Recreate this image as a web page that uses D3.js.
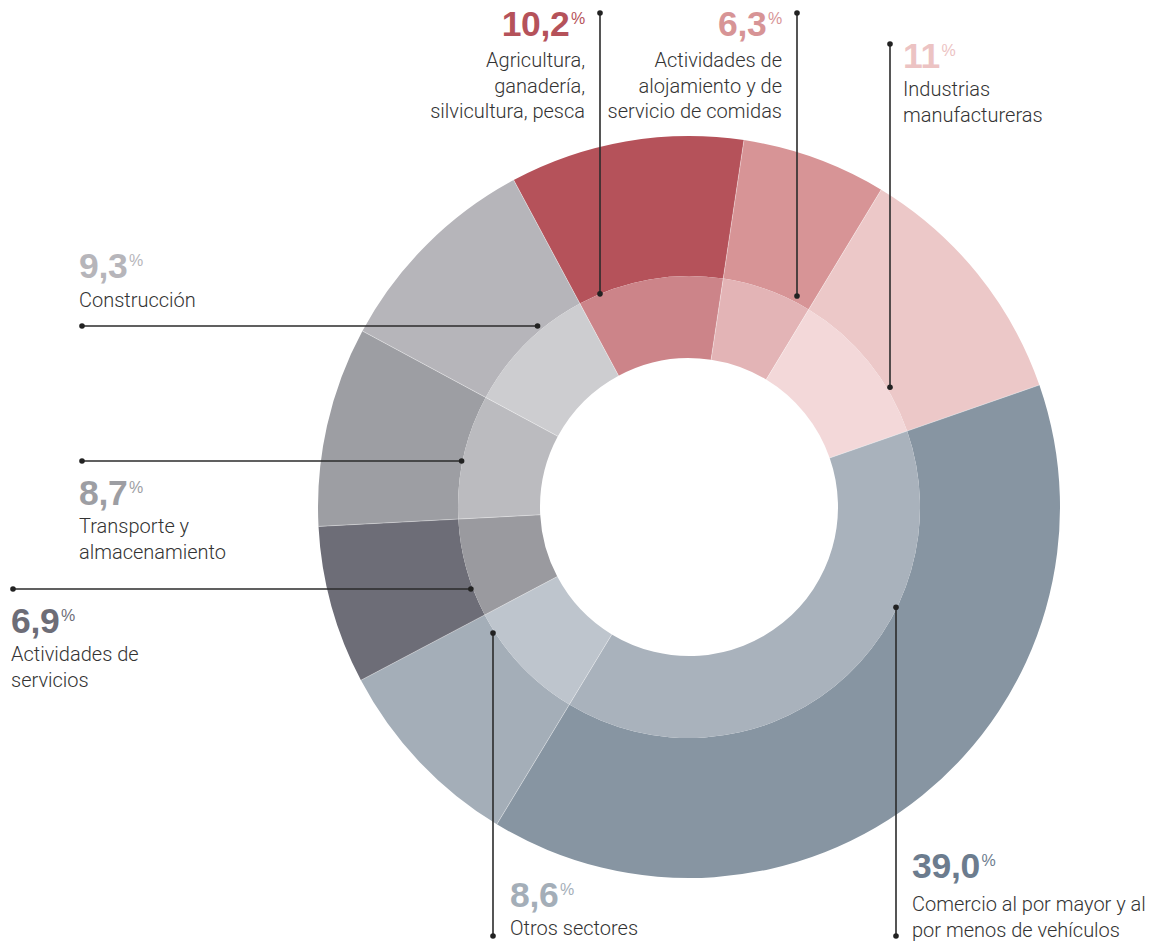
<!DOCTYPE html>
<html>
<head>
<meta charset="utf-8">
<script src="https://cdn.jsdelivr.net/npm/d3@7"></script>
<style>
  html, body { margin: 0; padding: 0; background: #fff; }
  svg { display: block; }
  .lbl { font-family: Roboto, "Liberation Sans", sans-serif; font-weight: 300; font-size: 20px; fill: #333; }
  .num { font-family: "Liberation Sans", Arial, sans-serif; font-weight: 700; font-size: 35.5px; }
  .pct { font-family: "Liberation Sans", Arial, sans-serif; font-weight: 400; font-size: 16px; }
</style>
</head>
<body>
<svg id="chart" width="1154" height="941"></svg>
<script>
// ---- Data ----
const categories = [
  "Agricultura, ganadería, silvicultura, pesca",
  "Actividades de alojamiento y de servicio de comidas",
  "Industrias manufactureras",
  "Comercio al por mayor y al por menos de vehículos",
  "Otros sectores",
  "Actividades de servicios",
  "Transporte y almacenamiento",
  "Construcción"
];
const values = [10.2, 6.3, 11.0, 39.0, 8.6, 6.9, 8.7, 9.3];
const valueLabels = ["10,2", "6,3", "11", "39,0", "8,6", "6,9", "8,7", "9,3"];
const labelLines = [
  ["Agricultura,", "ganadería,", "silvicultura, pesca"],
  ["Actividades de", "alojamiento y de", "servicio de comidas"],
  ["Industrias", "manufactureras"],
  ["Comercio al por mayor y al", "por menos de vehículos"],
  ["Otros sectores"],
  ["Actividades de", "servicios"],
  ["Transporte y", "almacenamiento"],
  ["Construcción"]
];

// ---- Styles / layout ----
const outerColors = ["#b5525a", "#d79496", "#ecc8c8", "#8795a2", "#a4aeb8", "#6d6d77", "#9d9ea3", "#b6b5ba"];
const innerColors = ["#cc8489", "#e3b4b6", "#f3d8d9", "#a9b2bc", "#bec5cd", "#9a9a9f", "#bbbbbf", "#cdcdd0"];
const numColors   = ["#b5525a", "#d79496", "#ecc3c3", "#6c7c8e", "#a4aeb8", "#6d6d77", "#9d9ea3", "#b6b5ba"];

const cx = 689, cy = 507;
const R0 = 149, R1 = 231, R2 = 371;

const layout = [
  {dir: "v", x: 600, end: 13,  side: -1, rd: 231, anchor: "end",   tx: 585, ny: 36,  ly: 67,  lh: 25.5},
  {dir: "v", x: 797, end: 13,  side: -1, rd: 237, anchor: "end",   tx: 782, ny: 36,  ly: 67,  lh: 25.5},
  {dir: "v", x: 890, end: 44,  side: -1, rd: 234, anchor: "start", tx: 903, ny: 68,  ly: 96,  lh: 26},
  {dir: "v", x: 896, end: 936, side: 1,  rd: 230, anchor: "start", tx: 912, ny: 878, ly: 911, lh: 26},
  {dir: "v", x: 493, end: 936, side: 1,  rd: 233, anchor: "start", tx: 510, ny: 907, ly: 935, lh: 26},
  {dir: "h", y: 589, end: 13,  side: -1, rd: 233, anchor: "start", tx: 11,  ny: 633, ly: 661, lh: 26},
  {dir: "h", y: 461, end: 82,  side: -1, rd: 232, anchor: "start", tx: 79,  ny: 505, ly: 533, lh: 26},
  {dir: "h", y: 326, end: 82,  side: -1, rd: 236, anchor: "start", tx: 79,  ny: 278, ly: 307, lh: 26}
];

const svg = d3.select("#chart");
const g = svg.append("g").attr("transform", `translate(${cx},${cy})`);

const start = -28.2 * Math.PI / 180;
const pie = d3.pie().sort(null).value(d => d).startAngle(start).endAngle(start + 2 * Math.PI);
const arcs = pie(values);

const arcOuter = d3.arc().innerRadius(R1).outerRadius(R2);
const arcInner = d3.arc().innerRadius(R0).outerRadius(R1);

g.selectAll("path.outer").data(arcs).join("path")
  .attr("class", "outer")
  .attr("d", arcOuter)
  .attr("fill", (d, i) => outerColors[i]);

g.selectAll("path.inner").data(arcs).join("path")
  .attr("class", "inner")
  .attr("d", arcInner)
  .attr("fill", (d, i) => innerColors[i]);

// faint radial separators
g.selectAll("line.sep").data(arcs).join("line")
  .attr("class", "sep")
  .attr("x1", d => R0 * Math.sin(d.startAngle)).attr("y1", d => -R0 * Math.cos(d.startAngle))
  .attr("x2", d => R2 * Math.sin(d.startAngle)).attr("y2", d => -R2 * Math.cos(d.startAngle))
  .attr("stroke", "#fff").attr("stroke-opacity", 0.45).attr("stroke-width", 0.8);

// leader lines
const lines = svg.append("g");
layout.forEach((L, i) => {
  let x1, y1, x2, y2;
  if (L.dir === "v") {
    const dx = L.x - cx;
    const dy = Math.sqrt(L.rd * L.rd - dx * dx);
    x1 = L.x; y1 = cy + L.side * dy; x2 = L.x; y2 = L.end;
  } else {
    const dy = L.y - cy;
    const dx = Math.sqrt(L.rd * L.rd - dy * dy);
    x1 = cx + L.side * dx; y1 = L.y; x2 = L.end; y2 = L.y;
  }
  lines.append("line").attr("x1", x1).attr("y1", y1).attr("x2", x2).attr("y2", y2)
    .attr("stroke", "#2b2b2b").attr("stroke-width", 1.6);
  lines.append("circle").attr("cx", x1).attr("cy", y1).attr("r", 2.8).attr("fill", "#222");
  lines.append("circle").attr("cx", x2).attr("cy", y2).attr("r", 2.8).attr("fill", "#222");
});

// labels
const labels = svg.append("g");
layout.forEach((L, i) => {
  const t = labels.append("text").attr("class", "num")
    .attr("x", L.tx).attr("y", L.ny).attr("text-anchor", L.anchor)
    .attr("fill", numColors[i]).attr("letter-spacing", "-0.3");
  t.append("tspan").text(valueLabels[i]);
  t.append("tspan").attr("class", "pct").attr("dx", 1.5).attr("dy", -12.5).text("%");
  labelLines[i].forEach((s, j) => {
    labels.append("text").attr("class", "lbl")
      .attr("x", L.tx).attr("y", L.ly + j * L.lh).attr("text-anchor", L.anchor)
      .text(s);
  });
});
</script>
</body>
</html>
